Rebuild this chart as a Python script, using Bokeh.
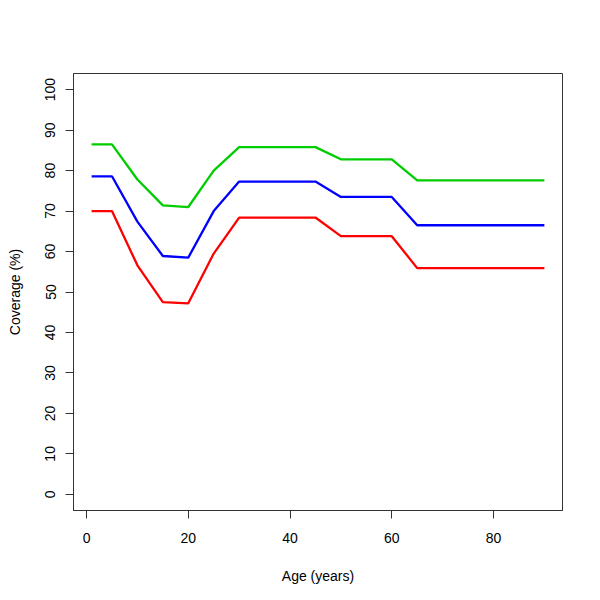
from bokeh.plotting import figure
from bokeh.embed import file_html
from bokeh.resources import INLINE
from bokeh.models import Range1d, FixedTicker

age = [1, 5, 10, 15, 20, 25, 30, 45, 50, 60, 65, 90]
cov_green = [86.5, 86.5, 77.8, 71.4, 71.0, 80.0, 85.8, 85.8, 82.8, 82.8, 77.6, 77.6]
cov_blue = [78.6, 78.6, 67.4, 58.9, 58.5, 70.0, 77.3, 77.3, 73.5, 73.5, 66.5, 66.5]
cov_red = [70.0, 70.0, 56.6, 47.5, 47.2, 59.5, 68.4, 68.4, 63.8, 63.8, 55.9, 55.9]
x_ticks = [0, 20, 40, 60, 80]
y_ticks = [0, 10, 20, 30, 40, 50, 60, 70, 80, 90, 100]

FONT = "Liberation Sans"

p = figure(width=592, height=592, output_backend="svg", toolbar_location=None,
           x_range=Range1d(-2.56, 93.56), y_range=Range1d(-4, 104),
           min_border_left=73, min_border_right=30, min_border_top=73, min_border_bottom=82)
p.xgrid.visible = False
p.ygrid.visible = False
p.outline_line_color = "#333333"
p.outline_line_width = 1

for s, c in [(cov_green, "#00CD00"), (cov_blue, "#0000FF"), (cov_red, "#FF0000")]:
    p.line(age, s, line_color=c, line_width=2.3)

p.xaxis.ticker = FixedTicker(ticks=x_ticks)
p.yaxis.ticker = FixedTicker(ticks=y_ticks)
p.xaxis.axis_label = "Age (years)"
p.yaxis.axis_label = "Coverage (%)"
p.yaxis.major_label_orientation = "vertical"
for ax in [p.xaxis[0], p.yaxis[0]]:
    ax.axis_line_color = "#333333"
    ax.major_tick_line_color = "#333333"
    ax.major_tick_out = 8
    ax.major_tick_in = 0
    ax.minor_tick_line_color = None
    ax.major_label_text_font = FONT
    ax.major_label_text_font_size = "14px"
    ax.major_label_text_color = "black"
    ax.axis_label_text_font = FONT
    ax.axis_label_text_font_size = "14px"
    ax.axis_label_text_font_style = "normal"
    ax.axis_label_text_color = "black"
p.xaxis.major_label_standoff = 14
p.xaxis.axis_label_standoff = 22
p.yaxis.major_label_standoff = 10
p.yaxis.axis_label_standoff = 20

open("out.html", "w").write(file_html(p, INLINE))
